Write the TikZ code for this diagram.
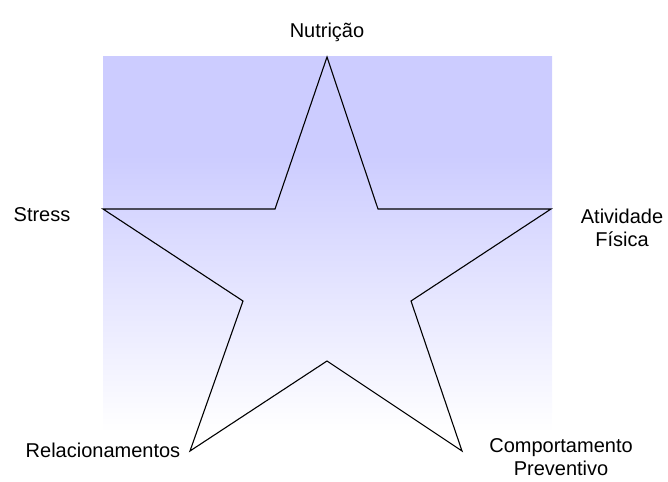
\documentclass[tikz,border=0pt]{standalone}
\usepackage{fontspec}
\setmainfont{Liberation Sans}
\usetikzlibrary{positioning}

\definecolor{lav}{RGB}{204,204,255}
\pgfdeclareverticalshading{lavfade}{100bp}{color(0bp)=(white); color(25bp)=(white); color(62bp)=(lav); color(75bp)=(lav); color(100bp)=(lav)}

\begin{document}
\begin{tikzpicture}[
			x=1pt, y=-1pt,
			font=\fontsize{20}{23.5}\selectfont,
			lbl/.style  = {align=center, inner sep=0pt},
			panel/.style = {shading=lavfade},
			starline/.style = {draw=black, line width=1.1pt, line join=miter}
			]
			
			\useasboundingbox (0,0) rectangle (668,481);
			
			%% ── Background panel ──────────────────────────────────────────
			\shade [panel] (103,57) rectangle (552,432);
			
			%% ── Star points ───────────────────────────────────────────────
			\coordinate (pN)  at (327,57);
			\coordinate (iNE) at (378,209);
			\coordinate (pE)  at (551,209);
			\coordinate (iSE) at (411,301);
			\coordinate (pSE) at (462,451);
			\coordinate (iS)  at (327,361);
			\coordinate (pSW) at (190,451);
			\coordinate (iSW) at (243,301);
			\coordinate (pW)  at (103,209);
			\coordinate (iNW) at (275,209);
			
			\draw [starline] (pN) -- (iNE) -- (pE) -- (iSE) -- (pSE) -- (iS)
			-- (pSW) -- (iSW) -- (pW) -- (iNW) -- cycle;
			
			%% ── Labels ────────────────────────────────────────────────────
			\node [lbl, anchor=base] (nutricao) at (327,38)  {Nutrição};
			\node [lbl, anchor=base] (stress)   at (42,221)  {Stress};
			\node [lbl] (atividade) at (622,228)   {Atividade\\Física};
			\node [lbl] (relac)     at (103,450.5) {Relacionamentos};
			\node [lbl] (comport)   at (561,457)   {Comportamento\\Preventivo};
			
		\end{tikzpicture}
\end{document}
